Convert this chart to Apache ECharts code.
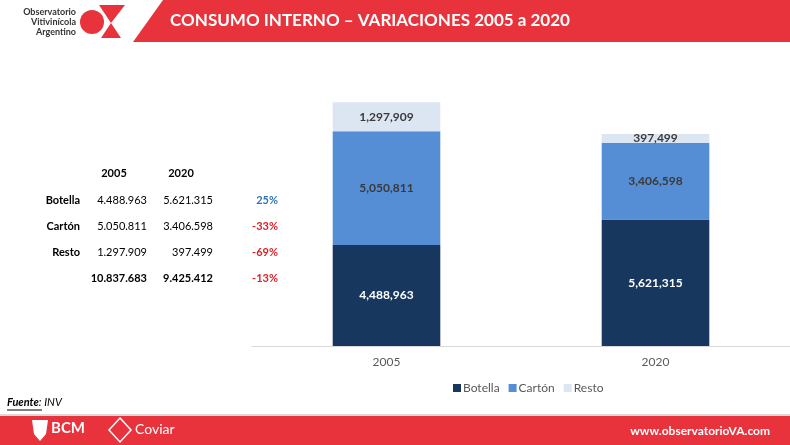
<!DOCTYPE html>
<html>
<head>
<meta charset="utf-8">
<script src="https://cdn.jsdelivr.net/npm/echarts@6/dist/echarts.min.js"></script>
<style>
  html, body { margin: 0; padding: 0; background: #fff; }
  #chart { width: 790px; height: 445px; }
</style>
</head>
<body>
<div id="chart"></div>
<script>
// datos del gráfico
const years = ['2005', '2020'];
const botella = [4488963, 5621315];
const carton = [5050811, 3406598];
const resto = [1297909, 397499];

// tabla de la izquierda
const tableRows = ['Botella', 'Cartón', 'Resto', ''];
const table2005 = ['4.488.963', '5.050.811', '1.297.909', '10.837.683'];
const table2020 = ['5.621.315', '3.406.598', '397.499', '9.425.412'];
const tableVar = ['25%', '-33%', '-69%', '-13%'];

const RED = '#e8323c';
const font = 'Lato, "Open Sans", sans-serif';

const chart = echarts.init(document.getElementById('chart'));

const fmt = p => p.value.toLocaleString('en-US');

const graphic = [];

// cabecera
graphic.push({
  type: 'polygon', silent: true,
  shape: { points: [[163, 0], [790, 0], [790, 42], [133, 42]] },
  style: { fill: RED }
});
graphic.push({
  type: 'text', x: 370, y: 21, silent: true,
  style: { text: 'CONSUMO INTERNO – VARIACIONES 2005 a 2020', fill: '#fff',
    font: 'bold 17px ' + font, textAlign: 'center', textVerticalAlign: 'middle' }
});
// logo observatorio
['Observatorio', 'Vitivinícola', 'Argentino'].forEach((t, i) => {
  graphic.push({
    type: 'text', silent: true, x: 76, y: 8 + i * 10,
    style: { text: t, fill: '#333', font: 'bold 9px ' + font, textAlign: 'right' }
  });
});
graphic.push({ type: 'circle', silent: true, shape: { cx: 92, cy: 22, r: 12 }, style: { fill: RED } });
graphic.push({ type: 'polygon', silent: true,
  shape: { points: [[99, 5], [125, 5], [111, 23]] }, style: { fill: RED } });
graphic.push({ type: 'polygon', silent: true,
  shape: { points: [[111, 23], [121, 38], [101, 38]] }, style: { fill: RED } });

// tabla
const rowY = [200, 226, 252, 278];
graphic.push({ type: 'text', silent: true, x: 114, y: 173,
  style: { text: '2005', fill: '#000', font: 'bold 11px ' + font, textAlign: 'center', textVerticalAlign: 'middle' } });
graphic.push({ type: 'text', silent: true, x: 181, y: 173,
  style: { text: '2020', fill: '#000', font: 'bold 11px ' + font, textAlign: 'center', textVerticalAlign: 'middle' } });
tableRows.forEach((r, i) => {
  const bold = i === 3 ? 'bold ' : '';
  graphic.push({ type: 'text', silent: true, x: 80, y: rowY[i],
    style: { text: r, fill: '#000', font: 'bold 11px ' + font, textAlign: 'right', textVerticalAlign: 'middle' } });
  graphic.push({ type: 'text', silent: true, x: 147, y: rowY[i],
    style: { text: table2005[i], fill: '#000', font: bold + '11px ' + font, textAlign: 'right', textVerticalAlign: 'middle' } });
  graphic.push({ type: 'text', silent: true, x: 213, y: rowY[i],
    style: { text: table2020[i], fill: '#000', font: bold + '11px ' + font, textAlign: 'right', textVerticalAlign: 'middle' } });
  graphic.push({ type: 'text', silent: true, x: 278, y: rowY[i],
    style: { text: tableVar[i], fill: tableVar[i].startsWith('-') ? '#e0202a' : '#2e75b6',
      font: 'bold 11px ' + font, textAlign: 'right', textVerticalAlign: 'middle' } });
});

// fuente
graphic.push({ type: 'text', silent: true, x: 7, y: 397,
  style: { text: '{u|Fuente}: INV', fill: '#000', font: 'italic 11px ' + font,
    rich: { u: { fontWeight: 'bold', fontStyle: 'italic', fontSize: 11, fontFamily: font } } } });
graphic.push({ type: 'line', silent: true, shape: { x1: 7, y1: 410, x2: 42, y2: 410 },
  style: { stroke: '#000', lineWidth: 1 } });

// pie de página
graphic.push({ type: 'rect', silent: true, shape: { x: 0, y: 414, width: 790, height: 2 }, style: { fill: '#d9d9d9' } });
graphic.push({ type: 'rect', silent: true, shape: { x: 0, y: 416, width: 790, height: 29 }, style: { fill: RED } });
graphic.push({ type: 'polygon', silent: true,
  shape: { points: [[32, 420], [48, 420], [46, 434], [40, 441], [34, 434]] }, style: { fill: '#fff' } });
graphic.push({ type: 'text', silent: true, x: 51, y: 421,
  style: { text: 'BCM', fill: '#fff', font: 'bold 15px ' + font } });
graphic.push({ type: 'polygon', silent: true,
  shape: { points: [[120, 418], [131, 430], [120, 442], [109, 430]] },
  style: { fill: 'none', stroke: '#fff', lineWidth: 1.5 } });
graphic.push({ type: 'text', silent: true, x: 135, y: 422,
  style: { text: 'Coviar', fill: '#fff', font: '14px ' + font } });
graphic.push({ type: 'text', silent: true, x: 770, y: 431,
  style: { text: 'www.observatorioVA.com', fill: '#fff', font: 'bold 12px ' + font,
    textAlign: 'right', textVerticalAlign: 'middle' } });

const labelBase = { show: true, position: 'inside', fontWeight: 'bold', fontSize: 12, fontFamily: font, formatter: fmt };

chart.setOption({
  animation: false,
  backgroundColor: '#fff',
  textStyle: { fontFamily: font },
  graphic: graphic,
  grid: { left: 252, right: -4, top: 76, bottom: 99 },
  legend: {
    data: ['Botella', 'Cartón', 'Resto'],
    left: 448, top: 377,
    itemWidth: 8, itemHeight: 8, itemGap: 9,
    icon: 'rect',
    textStyle: { color: '#595959', fontSize: 12, fontFamily: font, padding: [0, 0, 0, -3] }
  },
  xAxis: {
    type: 'category',
    data: years,
    axisLine: { lineStyle: { color: '#d9d9d9', width: 1 } },
    axisTick: { show: false },
    axisLabel: { color: '#595959', fontSize: 12, fontFamily: font, margin: 10 }
  },
  yAxis: {
    type: 'value', min: 0, max: 12000000, show: false,
    splitLine: { show: false }
  },
  series: [
    { name: 'Botella', type: 'bar', stack: 't', barWidth: '40%', data: botella,
      itemStyle: { color: '#17375e' }, label: Object.assign({}, labelBase, { color: '#fff' }) },
    { name: 'Cartón', type: 'bar', stack: 't', data: carton,
      itemStyle: { color: '#558ed5' }, label: Object.assign({}, labelBase, { color: '#3a3a3a' }) },
    { name: 'Resto', type: 'bar', stack: 't', data: resto,
      itemStyle: { color: '#dce6f2' }, label: Object.assign({}, labelBase, { color: '#3a3a3a' }) }
  ]
});
</script>
</body>
</html>
